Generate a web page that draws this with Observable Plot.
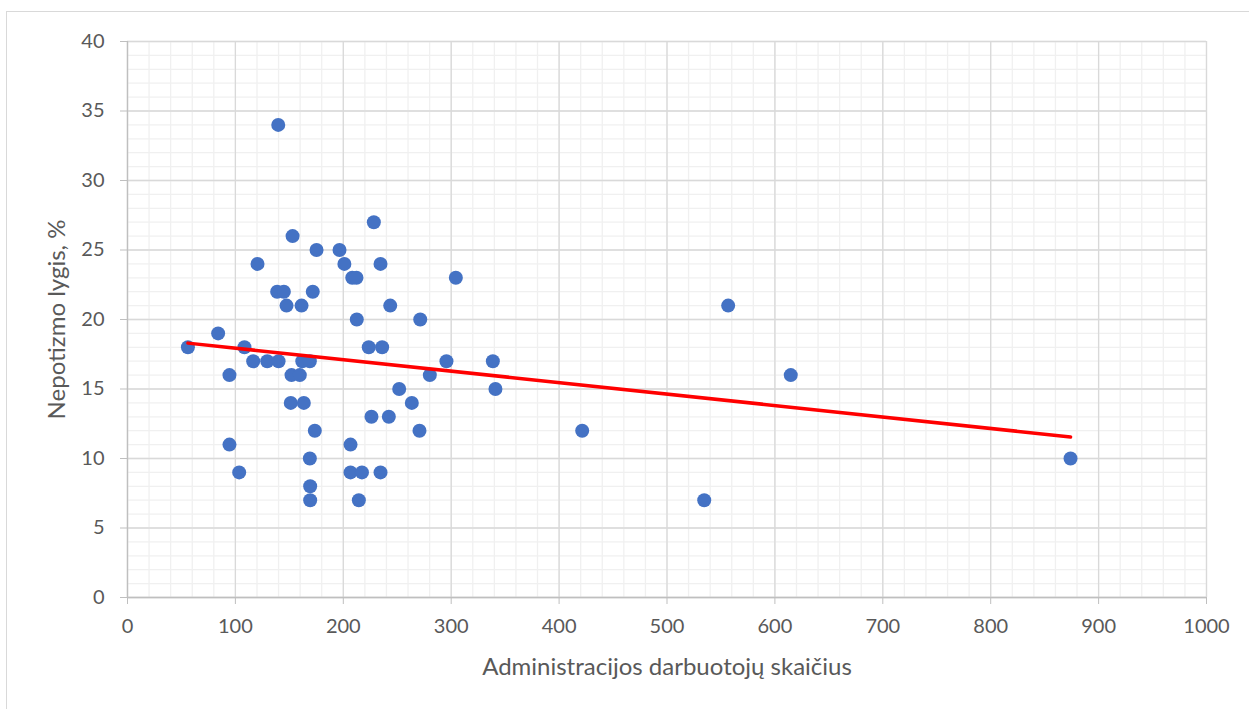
<!DOCTYPE html>
<html>
<head>
<meta charset="utf-8">
<script src="https://cdn.jsdelivr.net/npm/d3@7"></script>
<script src="https://cdn.jsdelivr.net/npm/@observablehq/plot@0.6"></script>
<style>
  html, body { margin: 0; padding: 0; background: #fff; overflow: hidden; }
  #frame { position: absolute; left: 6px; top: 11px; width: 1400px; height: 900px; border: 1px solid #d9d9d9; box-sizing: border-box; }
  #chart { position: absolute; left: 0; top: 0; }
</style>
</head>
<body>
<div id="frame"></div>
<div id="chart"></div>
<script>
// Administracijos darbuotojų skaičius (x) and Nepotizmo lygis, % (y)
const staff = [56, 84, 94.5, 94.5, 103.5, 108.4, 116.5, 120.5, 129.5, 139.7, 138.7, 144.9, 140, 147.4, 153, 152, 151.3, 159.7, 161.3, 162, 163.4, 169, 169, 169.3, 169.3, 171.7, 173.6, 175.2, 196.5, 201, 206.7, 206.7, 208.3, 212.2, 212.5, 214.4, 217.3, 223.6, 226.1, 228.3, 234.5, 234.5, 236, 242.2, 243.5, 251.8, 263.5, 270.6, 271.3, 280.2, 295.6, 304.3, 338.6, 341, 421.4, 534.5, 556.7, 614.7, 874];
const nepotism = [18, 19, 16, 11, 9, 18, 17, 24, 17, 34, 22, 22, 17, 21, 26, 16, 14, 16, 21, 17, 14, 17, 10, 8, 7, 22, 12, 25, 25, 24, 11, 9, 23, 23, 20, 7, 9, 18, 13, 27, 24, 9, 18, 13, 21, 15, 14, 12, 20, 16, 17, 23, 17, 15, 12, 7, 21, 16, 10];
// Trend line endpoints
const trendX = [56, 874];
const trendY = [18.3, 11.55];

const xMajor = d3.range(0, 1001, 100);
const xMinor = d3.range(0, 1001, 20);
const yMajor = d3.range(0, 41, 5);
const yMinor = d3.range(0, 41, 1);
const xTitle = "Administracijos darbuotojų skaičius";
const yTitle = "Nepotizmo lygis, %";

const points = staff.map((x, i) => ({x, y: nepotism[i]}));
const trend = trendX.map((x, i) => ({x, y: trendY[i]}));

const font = "Lato, 'Open Sans', sans-serif";

const chart = Plot.plot({
  width: 1249,
  height: 709,
  marginLeft: 127,
  marginRight: 43,
  marginTop: 41,
  marginBottom: 112,
  style: { fontFamily: font, fontSize: "20px", color: "#595959", background: "transparent" },
  x: { domain: [0, 1000] },
  y: { domain: [0, 40] },
  marks: [
    Plot.gridX(xMinor, { stroke: "#f0f0f0", strokeOpacity: 1, strokeWidth: 1.3 }),
    Plot.gridY(yMinor, { stroke: "#f0f0f0", strokeOpacity: 1, strokeWidth: 1.3 }),
    Plot.gridX(xMajor, { stroke: "#d9d9d9", strokeOpacity: 1, strokeWidth: 1.3 }),
    Plot.gridY(yMajor, { stroke: "#d9d9d9", strokeOpacity: 1, strokeWidth: 1.3 }),
    Plot.ruleX([0], { stroke: "#bfbfbf", strokeWidth: 1.3 }),
    Plot.ruleY([0], { stroke: "#bfbfbf", strokeWidth: 1.3 }),
    Plot.axisY({ ticks: yMajor, tickSize: 7, tickPadding: 16, stroke: "#bfbfbf", fontSize: 20,
      tickFormat: d => String(d), label: null }),
    Plot.axisX({ ticks: xMajor, tickSize: 7, tickPadding: 14, stroke: "#bfbfbf", fontSize: 20,
      tickFormat: d => String(d), label: null }),
    Plot.text([xTitle], { frameAnchor: "bottom", dy: 77, fontSize: 24, fill: "#595959", textAnchor: "middle" }),
    Plot.text([yTitle], { frameAnchor: "left", rotate: -90, dx: -70, fontSize: 24, fill: "#595959", textAnchor: "middle" }),
    Plot.dot(points, { x: "x", y: "y", r: 7, fill: "#4472C4", stroke: "none" }),
    Plot.line(trend, { x: "x", y: "y", stroke: "#ff0000", strokeWidth: 3.5 })
  ]
});
document.getElementById("chart").appendChild(chart);
</script>
</body>
</html>
